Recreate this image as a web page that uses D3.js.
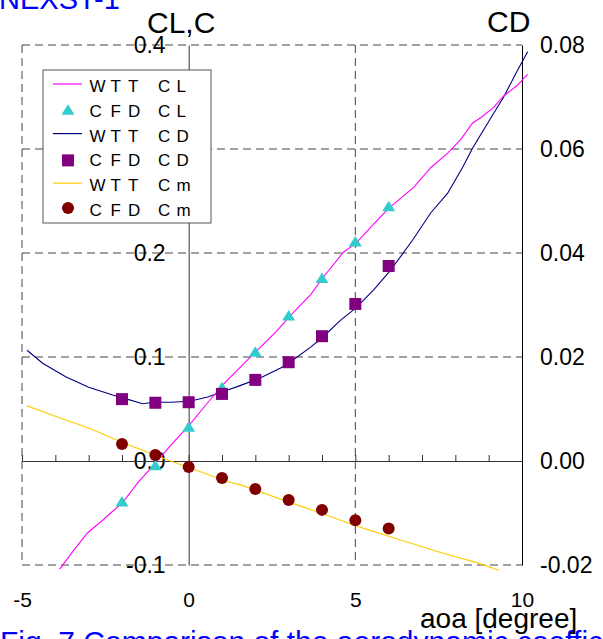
<!DOCTYPE html>
<html>
<head>
<meta charset="utf-8">
<script src="https://cdn.jsdelivr.net/npm/d3@7/dist/d3.min.js"></script>
<style>
  html, body { margin: 0; padding: 0; background: #fff; overflow: hidden; }
  svg { display: block; }
  text { font-family: Arial, "Liberation Sans", sans-serif; }
</style>
</head>
<body>
<script>
// CFD results at whole-degree angles of attack
const cfdAoa = [-2, -1, 0, 1, 2, 3, 4, 5, 6];
const cfdCL  = [-0.039, -0.004, 0.033, 0.071, 0.105, 0.140, 0.176, 0.211, 0.245];
const cfdCD  = [0.0119, 0.0112, 0.0113, 0.0129, 0.0156, 0.0190, 0.0240, 0.0302, 0.0375];
const cfdCm  = [0.0163, 0.0058, -0.0058, -0.0163, -0.027, -0.0375, -0.047, -0.057, -0.065];

// Wind tunnel test curves
const wttClAoa = [-3.87, -3.45, -3.03, -2.58, -2.34, -1.98, -1.53, -1.05, -0.54, 0.03, 0.57, 1.02, 1.26, 2.01, 2.61, 3.06, 3.66, 4.02, 4.65, 5.01, 5.5, 6.0, 6.75, 7.26, 7.77, 8.16, 8.52, 8.76, 9.15, 9.45, 9.87, 10.17];
const wttCL    = [-0.104, -0.086, -0.069, -0.057, -0.050, -0.040, -0.021, -0.004, 0.015, 0.035, 0.056, 0.073, 0.081, 0.105, 0.124, 0.140, 0.160, 0.176, 0.201, 0.209, 0.226, 0.243, 0.263, 0.282, 0.296, 0.309, 0.325, 0.330, 0.340, 0.351, 0.3615, 0.372];

const wttCdAoa = [-4.85, -4.38, -3.69, -3.0, -2.28, -1.9, -1.38, -1.05, -0.54, 0.03, 0.57, 1.02, 1.5, 2.16, 2.76, 3.0, 3.66, 4.02, 4.56, 5.01, 5.55, 6.06, 6.72, 7.26, 7.77, 8.22, 8.52, 8.85, 9.45, 9.87, 10.17];
const wttCD    = [0.0213, 0.0188, 0.0162, 0.0142, 0.0127, 0.0120, 0.0110, 0.0113, 0.0113, 0.0115, 0.0123, 0.0133, 0.0144, 0.0160, 0.0179, 0.0188, 0.0219, 0.0238, 0.0271, 0.0294, 0.0329, 0.0367, 0.0425, 0.0477, 0.0515, 0.0565, 0.0602, 0.0637, 0.0700, 0.0752, 0.0787];

const wttCmAoa = [-4.85, -4.0, -2.94, -2.04, -0.63, 0.5, 1.17, 1.56, 2.97, 4.0, 4.95, 5.37, 6.36, 7.56, 8.67, 9.3];
const wttCm    = [0.053, 0.043, 0.031, 0.0185, 0.001, -0.012, -0.020, -0.023, -0.039, -0.0505, -0.0615, -0.066, -0.076, -0.088, -0.098, -0.105];

// Axis ticks (the 0.3 label sits under the legend box, so it is left out)
const xLabelTicks = [-5, 0, 5, 10];
const xMinorTicks = d3.range(-5, 11, 1);
const leftTicks  = [-0.1, 0.0, 0.1, 0.2, 0.4];
const rightTicks = [-0.02, 0.00, 0.02, 0.04, 0.06, 0.08];
const gridLevels = [0.4, 0.3, 0.2, 0.1, -0.1];

// Legend entries
const legendLabels = ["WTTCL", "CFDCL", "WTTCD", "CFDCD", "WTTCm", "CFDCm"];
const legendKinds  = ["line", "triangle", "line", "square", "line", "circle"];
const legendColors = ["#ff00ff", "#33cccc", "#000080", "#800080", "#ffcc00", "#800000"];

const W = 603, H = 639;
const svg = d3.select("body").append("svg").attr("width", W).attr("height", H);
svg.append("rect").attr("width", W).attr("height", H).attr("fill", "#fff");

const x  = d3.scaleLinear().domain([-5, 10]).range([22, 522]);
const yL = d3.scaleLinear().domain([-0.1, 0.4]).range([565, 45]);
const yR = d3.scaleLinear().domain([-0.02, 0.08]).range([565, 45]);

// dashed grid (frame top/left/bottom are grid lines too)
const grid = svg.append("g").attr("stroke", "#444").attr("stroke-width", 1).attr("stroke-dasharray", "8,5");
gridLevels.forEach(v => {
  grid.append("line").attr("x1", x(-5)).attr("x2", x(10)).attr("y1", yL(v)).attr("y2", yL(v));
});
[-5, 5].forEach(v => {
  grid.append("line").attr("x1", x(v)).attr("x2", x(v)).attr("y1", yL(0.4)).attr("y2", yL(-0.1));
});

// left axis through aoa = 0
const leftAxis = svg.append("g").attr("transform", `translate(${x(0)},0)`)
  .call(d3.axisLeft(yL).tickValues(leftTicks).tickSize(0).tickSizeOuter(0).tickPadding(23).tickFormat(d => d.toFixed(1)));
leftAxis.select(".domain").attr("stroke", "#333");
leftAxis.selectAll("text").attr("font-size", 23).attr("fill", "#000").attr("font-family", "Arial, 'Liberation Sans', sans-serif");

// horizontal zero line with upward degree ticks
const zeroAxis = svg.append("g").attr("transform", `translate(0,${yL(0)})`)
  .call(d3.axisTop(x).tickValues(xMinorTicks).tickSize(6).tickSizeOuter(0).tickFormat(""));
zeroAxis.selectAll("line, path").attr("stroke", "#333");

// right CD axis
const rightAxis = svg.append("g").attr("transform", `translate(${x(10)},0)`)
  .call(d3.axisRight(yR).tickValues(rightTicks).tickSize(0).tickSizeOuter(0).tickPadding(18).tickFormat(d => d.toFixed(2)));
rightAxis.select(".domain").attr("stroke", "#000");
rightAxis.selectAll("text").attr("font-size", 23).attr("fill", "#000").attr("font-family", "Arial, 'Liberation Sans', sans-serif");

// bottom aoa labels
const bottomAxis = svg.append("g").attr("transform", `translate(0,${yL(-0.1)})`)
  .call(d3.axisBottom(x).tickValues(xLabelTicks).tickSize(0).tickPadding(27).tickFormat(d => String(d)));
bottomAxis.select(".domain").remove();
bottomAxis.selectAll("text").attr("font-size", 21).attr("fill", "#000").attr("font-family", "Arial, 'Liberation Sans', sans-serif");

// WTT curves
const zip = (a, b) => a.map((v, i) => [v, b[i]]);
const lineL = d3.line().x(d => x(d[0])).y(d => yL(d[1]));
const lineR = d3.line().x(d => x(d[0])).y(d => yR(d[1]));

svg.append("path").datum(zip(wttCmAoa, wttCm)).attr("d", lineL)
  .attr("fill", "none").attr("stroke", "#ffcc00").attr("stroke-width", 1.2);
svg.append("path").datum(zip(wttCdAoa, wttCD)).attr("d", lineR)
  .attr("fill", "none").attr("stroke", "#000080").attr("stroke-width", 1.1);
svg.append("path").datum(zip(wttClAoa, wttCL)).attr("d", lineL)
  .attr("fill", "none").attr("stroke", "#ff00ff").attr("stroke-width", 1.1);

// marker shapes
function triangle(g, cx, cy, color) {
  g.append("path").attr("d", `M${cx},${cy - 5.5}L${cx + 6.5},${cy + 5}L${cx - 6.5},${cy + 5}Z`).attr("fill", color);
}
function square(g, cx, cy, color) {
  g.append("rect").attr("x", cx - 6).attr("y", cy - 6).attr("width", 12).attr("height", 12).attr("fill", color);
}
function circle(g, cx, cy, color) {
  g.append("circle").attr("cx", cx).attr("cy", cy).attr("r", 6).attr("fill", color);
}

const marks = svg.append("g");
cfdAoa.forEach((a, i) => triangle(marks, x(a), yL(cfdCL[i]), "#33cccc"));
cfdAoa.forEach((a, i) => square(marks, x(a), yR(cfdCD[i]), "#800080"));
cfdAoa.forEach((a, i) => circle(marks, x(a), yL(cfdCm[i]), "#800000"));

// legend
const lg = svg.append("g");
lg.append("rect").attr("x", 43).attr("y", 70).attr("width", 168).attr("height", 153)
  .attr("fill", "#fff").attr("stroke", "#555").attr("stroke-width", 1);
legendLabels.forEach((lab, i) => {
  const base = 92 + i * 24.8;
  const kind = legendKinds[i], col = legendColors[i];
  if (kind === "line") {
    lg.append("line").attr("x1", 53).attr("x2", 82).attr("y1", base - 8).attr("y2", base - 8)
      .attr("stroke", col).attr("stroke-width", 1.2);
  } else if (kind === "triangle") triangle(lg, 68, base - 7, col);
  else if (kind === "square") square(lg, 68, base - 6, col);
  else circle(lg, 68, base - 8, col);
  lg.append("text").attr("x", "89.5 110.5 128 158 176.5").attr("y", base)
    .attr("font-size", 17).attr("fill", "#000").text(lab);
});

// axis titles
svg.append("text").attr("x", 147).attr("y", 33).attr("font-size", 30).attr("fill", "#000").text("CL,C");
svg.append("text").attr("x", 487).attr("y", 32).attr("font-size", 30).attr("fill", "#000").text("CD");

// document header and caption
svg.append("text").attr("x", -1).attr("y", 9).attr("font-size", 29).attr("fill", "#0000ff")
  .attr("font-family", "'Liberation Serif', 'Times New Roman', serif").text("NEXST-1");
svg.append("text").attr("x", 0).attr("y", 652).attr("font-size", 30).attr("fill", "#0000ff")
  .attr("font-family", "'Liberation Serif', 'Times New Roman', serif").text("Fig. 7  Comparison of the aerodynamic coefficients");

svg.append("text").attr("x", 420).attr("y", 628).attr("font-size", 28).attr("fill", "#000").text("aoa [degree]");
</script>
</body>
</html>
